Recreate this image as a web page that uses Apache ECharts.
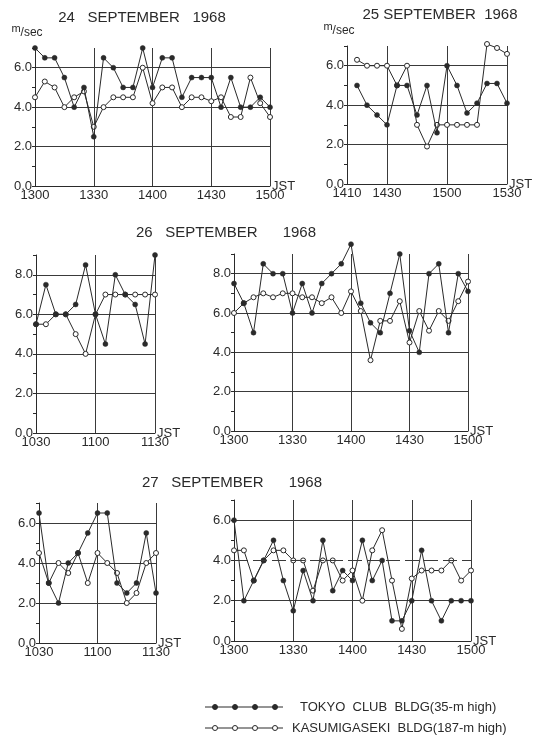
<!DOCTYPE html>
<html>
<head>
<meta charset="utf-8">
<title>Wind speed, September 1968</title>
<script src="https://cdn.jsdelivr.net/npm/echarts@6/dist/echarts.min.js"></script>
<style>
    html, body { margin: 0; padding: 0; background: #fff; }
    #main { width: 535px; height: 747px; }
</style>
</head>
<body>
<div id="main"></div>
<script>
// observation times (JST, hhmm)
var times1300 = [1300, 1305, 1310, 1315, 1320, 1325, 1330, 1335, 1340, 1345, 1350, 1355, 1400,
    1405, 1410, 1415, 1420, 1425, 1430, 1435, 1440, 1445, 1450, 1455, 1500];
var times1415 = [1415, 1420, 1425, 1430, 1435, 1440, 1445, 1450, 1455, 1500, 1505, 1510, 1515, 1520, 1525, 1530];
var times1030 = [1030, 1035, 1040, 1045, 1050, 1055, 1100, 1105, 1110, 1115, 1120, 1125, 1130];

// wind speed m/sec - TOKYO CLUB BLDG (filled) / KASUMIGASEKI BLDG (open)
var tokyo24 = [7.0, 6.5, 6.5, 5.5, 4.0, 5.0, 2.5, 6.5, 6.0, 5.0, 5.0, 7.0, 5.0, 6.5, 6.5, 4.5, 5.5, 5.5, 5.5, 4.0, 5.5, 4.0, 4.0, 4.5, 4.0];
var kasumi24 = [4.5, 5.3, 5.0, 4.0, 4.5, 4.8, 3.0, 4.0, 4.5, 4.5, 4.5, 6.0, 4.2, 5.0, 5.0, 4.0, 4.5, 4.5, 4.3, 4.5, 3.5, 3.5, 5.5, 4.2, 3.5];

var tokyo25 = [5.0, 4.0, 3.5, 3.0, 5.0, 5.0, 3.5, 5.0, 2.6, 6.0, 5.0, 3.6, 4.1, 5.1, 5.1, 4.1];
var kasumi25 = [6.3, 6.0, 6.0, 6.0, 5.0, 6.0, 3.0, 1.9, 3.0, 3.0, 3.0, 3.0, 3.0, 7.1, 6.9, 6.6];

var tokyo26a = [5.5, 7.5, 6.0, 6.0, 6.5, 8.5, 6.0, 4.5, 8.0, 7.0, 6.5, 4.5, 9.0];
var kasumi26a = [5.5, 5.5, 6.0, 6.0, 5.0, 4.0, 6.0, 7.0, 7.0, 7.0, 7.0, 7.0, 7.0];

var tokyo26b = [7.5, 6.5, 5.0, 8.5, 8.0, 8.0, 6.0, 7.5, 6.0, 7.5, 8.0, 8.5, 9.5, 6.5, 5.5, 5.0, 7.0, 9.0, 5.1, 4.0, 8.0, 8.5, 5.0, 8.0, 7.1];
var kasumi26b = [6.0, 6.5, 6.8, 7.0, 6.8, 7.0, 7.0, 6.8, 6.8, 6.5, 6.8, 6.0, 7.1, 6.1, 3.6, 5.6, 5.6, 6.6, 4.5, 6.1, 5.1, 6.1, 5.6, 6.6, 7.6];

var tokyo27a = [6.5, 3.0, 2.0, 4.0, 4.5, 5.5, 6.5, 6.5, 3.0, 2.5, 3.0, 5.5, 2.5];
var kasumi27a = [4.5, 3.0, 4.0, 3.5, 4.5, 3.0, 4.5, 4.0, 3.5, 2.0, 2.5, 4.0, 4.5];

var tokyo27b = [6.0, 2.0, 3.0, 4.0, 5.0, 3.0, 1.5, 3.5, 2.0, 5.0, 2.5, 3.5, 3.0, 5.0, 3.0, 4.0, 1.0, 1.0, 2.0, 4.5, 2.0, 1.0, 2.0, 2.0, 2.0];
var kasumi27b = [4.5, 4.5, 3.0, 4.0, 4.5, 4.5, 4.0, 4.0, 2.5, 4.0, 4.0, 3.0, 3.5, 2.0, 4.5, 5.5, 3.0, 0.6, 3.1, 3.5, 3.5, 3.5, 4.0, 3.0, 3.5];

var titles = ['24   SEPTEMBER   1968', '25 SEPTEMBER  1968', '26   SEPTEMBER      1968', '27   SEPTEMBER      1968'];
var legendNames = ['TOKYO  CLUB  BLDG(35-m high)', 'KASUMIGASEKI  BLDG(187-m high)'];

var FONT = "'Liberation Sans', Arial, sans-serif";
var INK = '#2a2a2a';
var GRIDC = '#3a3a3a';
var NONE = 'rgba(0,0,0,0)';

function toMin(t) {
    return Math.floor(t / 100) * 60 + t % 100;
}
function toHhmm(m) {
    return String(Math.floor(m / 60) * 100 + m % 60);
}
function pairs(times, vals) {
    var out = [];
    for (var i = 0; i < times.length; i++) {
        out.push([toMin(times[i]), vals[i]]);
    }
    return out;
}

var panels = [
    { box: { left: 35, top: 48, width: 235, height: 138 }, x0: 1300, x1: 1500, yMax: 7, times: times1300, tokyo: tokyo24, kasumi: kasumi24, unit: true },
    { box: { left: 347, top: 46, width: 160, height: 138 }, x0: 1410, x1: 1530, yMax: 7, times: times1415, tokyo: tokyo25, kasumi: kasumi25, unit: true },
    { box: { left: 36, top: 255, width: 119, height: 178 }, x0: 1030, x1: 1130, yMax: 9, times: times1030, tokyo: tokyo26a, kasumi: kasumi26a },
    { box: { left: 234, top: 254, width: 234, height: 177 }, x0: 1300, x1: 1500, yMax: 9, times: times1300, tokyo: tokyo26b, kasumi: kasumi26b },
    { box: { left: 39, top: 503, width: 117, height: 140 }, x0: 1030, x1: 1130, yMax: 7, times: times1030, tokyo: tokyo27a, kasumi: kasumi27a },
    { box: { left: 234, top: 500, width: 237, height: 141 }, x0: 1300, x1: 1500, yMax: 7, times: times1300, tokyo: tokyo27b, kasumi: kasumi27b, dash4: true }
];

var grids = [], xAxes = [], yAxes = [], series = [];

panels.forEach(function(p, i) {
    var xmin = toMin(p.x0), xmax = toMin(p.x1);
    var g = p.box;
    g.outerBoundsMode = 'none';   // keep the boxes where they are
    grids.push(g);

    // vertical lines only every 30 min
    var xCols = [];
    for (var v = xmin; v <= xmax; v += 10) {
        xCols.push(v % 30 === 0 && v !== xmin ? GRIDC : NONE);
    }
    xAxes.push({
        gridIndex: i,
        type: 'value',
        min: xmin,
        max: xmax,
        interval: 10,
        axisLine: { show: true, onZero: false, lineStyle: { color: INK, width: 1 } },
        axisTick: { show: false },
        axisLabel: {
            margin: 3,
            color: INK,
            fontSize: 13,
            fontFamily: FONT,
            formatter: function(val) {
                return (val % 30 === 0 || val === xmin) ? toHhmm(val) : '';
            }
        },
        splitLine: { show: true, lineStyle: { color: xCols, width: 1 } },
        name: 'JST',
        nameLocation: 'end',
        nameGap: 2,
        nameMoveOverlap: false,
        nameTextStyle: { color: INK, fontSize: 13, fontFamily: FONT, padding: [0, 0, 4, 0] }
    });

    // horizontal lines on even values, dashed 4.0 in last panel
    var yCols = [];
    for (var k = 0; k <= p.yMax; k++) {
        yCols.push(k % 2 === 0 && !(p.dash4 && k === 4) ? GRIDC : NONE);
    }
    yAxes.push({
        gridIndex: i,
        type: 'value',
        min: 0,
        max: p.yMax,
        interval: 1,
        axisLine: { show: true, lineStyle: { color: INK, width: 1 } },
        axisTick: { show: true, length: 3, lineStyle: { color: INK } },
        axisLabel: {
            margin: 3,
            color: INK,
            fontSize: 13,
            fontFamily: FONT,
            formatter: function(val) {
                return val % 2 === 0 ? val.toFixed(1) : '';
            }
        },
        splitLine: { show: true, lineStyle: { color: yCols, width: 1 } },
        name: p.unit ? '{a|m}{b|/sec}' : '',
        nameLocation: 'end',
        nameGap: 9,
        nameMoveOverlap: false,
        nameTextStyle: {
            padding: [0, 16, 0, 0],
            rich: {
                a: { fontSize: 11, fontFamily: FONT, color: INK, padding: [0, 0, 5, 0] },
                b: { fontSize: 12, fontFamily: FONT, color: INK, padding: [3, 0, 0, 0] }
            }
        }
    });

    var openSeries = {
        name: 'KASUMIGASEKI',
        type: 'line',
        xAxisIndex: i,
        yAxisIndex: i,
        data: pairs(p.times, p.kasumi),
        symbol: 'circle',
        symbolSize: 5,
        showAllSymbol: true,
        clip: false,
        lineStyle: { color: INK, width: 1 },
        itemStyle: { color: '#fff', borderColor: INK, borderWidth: 1 },
        z: 3
    };
    if (p.dash4) {
        openSeries.markLine = {
            silent: true,
            symbol: 'none',
            label: { show: false },
            lineStyle: { color: GRIDC, width: 1, type: [14, 5] },
            data: [{ yAxis: 4 }]
        };
    }
    series.push(openSeries);
    series.push({
        name: 'TOKYO CLUB',
        type: 'line',
        xAxisIndex: i,
        yAxisIndex: i,
        data: pairs(p.times, p.tokyo),
        symbol: 'circle',
        symbolSize: 5,
        showAllSymbol: true,
        clip: false,
        lineStyle: { color: INK, width: 1 },
        itemStyle: { color: INK, borderColor: INK, borderWidth: 0.5 },
        z: 4
    });
});

// titles
var titlePos = [[142, 18], [440, 15], [226, 233], [232, 483]];
var graphics = titles.map(function(t, i) {
    return {
        type: 'text',
        x: titlePos[i][0],
        y: titlePos[i][1],
        style: { text: t, fill: INK, font: '15px ' + FONT, textAlign: 'center', textVerticalAlign: 'middle' }
    };
});

// hand-drawn style legend
function legendRow(y, filled, label) {
    var kids = [{
        type: 'line',
        shape: { x1: 205, y1: y, x2: 283, y2: y },
        style: { stroke: INK, lineWidth: 1 }
    }];
    [215, 235, 255, 275].forEach(function(cx) {
        kids.push({
            type: 'circle',
            shape: { cx: cx, cy: y, r: 2.5 },
            style: { fill: filled ? INK : '#fff', stroke: INK, lineWidth: 1 }
        });
    });
    kids.push({
        type: 'text',
        x: filled ? 300 : 292,
        y: y,
        style: { text: label, fill: INK, font: '13px ' + FONT, textVerticalAlign: 'middle' }
    });
    return { type: 'group', children: kids };
}
graphics.push(legendRow(707, true, legendNames[0]));
graphics.push(legendRow(728, false, legendNames[1]));

var chart = echarts.init(document.getElementById('main'));
chart.setOption({
    animation: false,
    backgroundColor: '#fff',
    grid: grids,
    xAxis: xAxes,
    yAxis: yAxes,
    series: series,
    graphic: graphics
});
</script>
</body>
</html>
